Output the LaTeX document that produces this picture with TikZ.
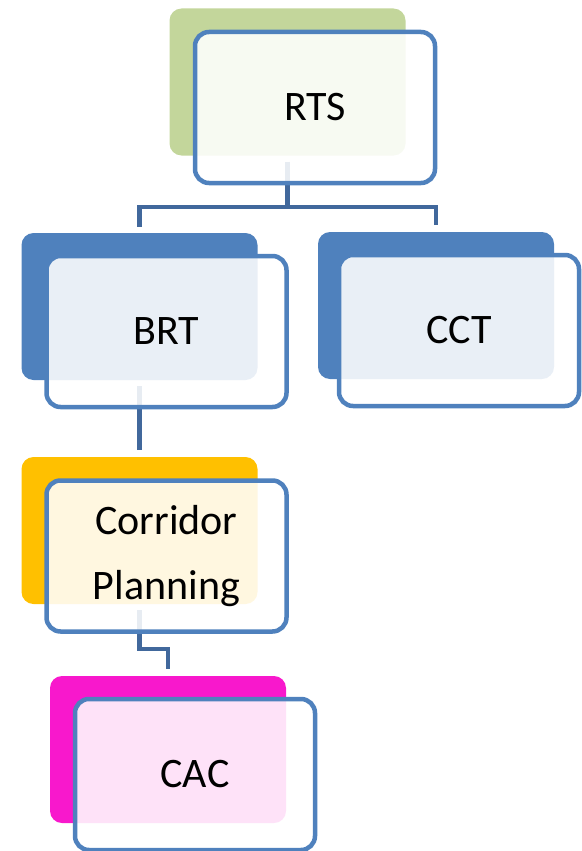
\documentclass[tikz,border=0pt]{standalone}
\usepackage{fontspec}
\setmainfont{Carlito}
\definecolor{gr}{RGB}{195,214,155}
\definecolor{bl}{RGB}{79,129,189}
\definecolor{og}{RGB}{255,192,0}
\definecolor{mg}{RGB}{248,24,204}
\definecolor{ln}{RGB}{65,104,156}
\tikzstyle{back}=[rectangle, rounded corners=12pt, minimum width=236pt, minimum height=147pt, inner sep=0pt]
\tikzstyle{front}=[rectangle, rounded corners=14pt, draw=bl, line width=4.5pt, fill=white, fill opacity=.88, text opacity=1, minimum width=240pt, minimum height=151pt, inner sep=0pt, align=center, font=\fontsize{42}{65}\selectfont]
\tikzstyle{link}=[draw=ln, line width=4.5pt, shorten <=6pt, shorten >=7pt]

\begin{document}
\begin{tikzpicture}[x=1pt, y=-1pt]

      \useasboundingbox (0,0) rectangle (581,851);

      % back boxes
      \node[back, fill=gr] (rtsback) at (287.5,82) {};
      \node[back, fill=bl] (brtback) at (139.5,306.5) {};
      \node[back, fill=bl] (cctback) at (436,305.5) {};
      \node[back, fill=og] (corback) at (139.5,530.5) {};
      \node[back, fill=mg] (cacback) at (168,749.5) {};

      \coordinate (fork) at (287.5,207);

      \draw[link, shorten >=0pt] (rtsback.south) -- (fork);
      \draw[link] (brtback.north) |- (fork) -| (cctback.north);
      \draw[link] (brtback.south) -- (corback.north);
      \draw[link] (corback.south) -- ++(0,45) -| (cacback.north);

      % front boxes
      \node[front] (rts) at (315,107.5) {RTS};
      \node[front] (brt) at (166.5,331.5) {BRT};
      \node[front] (cct) at (459,330.5) {CCT};
      \node[front] (cor) at (166.5,556) {Corridor\\Planning};
      \node[front] (cac) at (195,774.5) {CAC};

\end{tikzpicture}
\end{document}
